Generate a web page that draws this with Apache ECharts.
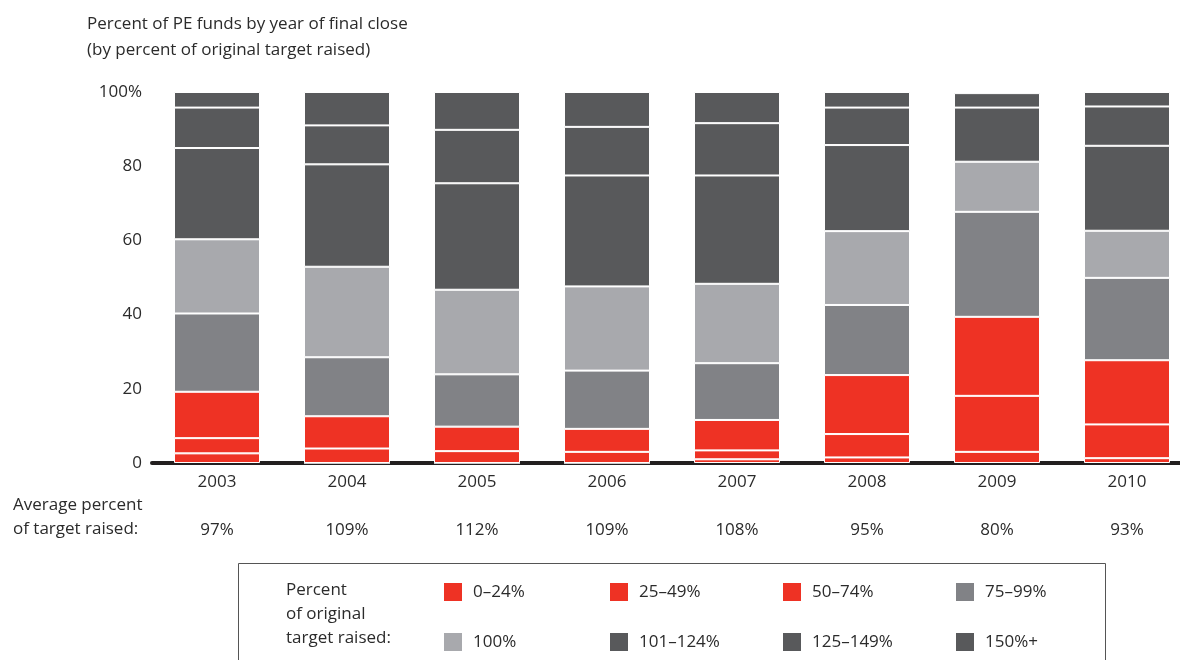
<!DOCTYPE html>
<html>
<head>
<meta charset="utf-8">
<script src="https://cdn.jsdelivr.net/npm/echarts@6/dist/echarts.min.js"></script>
<style>
html, body { margin: 0; padding: 0; background: #fff; overflow: hidden; }
/* a little wider than the window: the last bar column runs past the right edge */
#chart { width: 1192px; height: 660px; }
</style>
</head>
<body>
<div id="chart"></div>
<script>
// years and the average percent of target raised
const years = ["2003", "2004", "2005", "2006", "2007", "2008", "2009", "2010"];
const avgRaised = ["97%", "109%", "112%", "109%", "108%", "95%", "80%", "93%"];

// share of funds (%) per bucket of original target raised
const b0to24 = [2.6, 0, 0, 0, 1.0, 1.5, 3.0, 1.3];
const b25to49 = [4.1, 3.9, 3.2, 3.0, 2.4, 6.3, 15.1, 9.1];
const b50to74 = [12.5, 8.7, 6.6, 6.2, 8.2, 15.9, 21.3, 17.3];
const b75to99 = [21.1, 15.9, 14.1, 15.7, 15.3, 18.9, 28.3, 22.2];
const b100 = [20.0, 24.4, 22.8, 22.7, 21.4, 19.9, 13.5, 12.7];
const b101to124 = [24.6, 27.6, 28.7, 29.9, 29.2, 23.2, 14.6, 22.9];
const b125to149 = [10.9, 10.5, 14.4, 13.1, 14.1, 10.1, 3.9, 10.6];
const b150plus = [4.2, 9.0, 10.2, 9.4, 8.4, 4.2, 0.3, 3.9];

const yTicks = [0, 20, 40, 60, 80, 100];

const RED = "#ee3224", MID = "#818286", LIGHT = "#a8a9ad", DARK = "#58595b";
const FONT = "Open Sans";
const TXT = "#2b2b2b";

const buckets = [
    { name: "0–24%", data: b0to24, color: RED },
    { name: "25–49%", data: b25to49, color: RED },
    { name: "50–74%", data: b50to74, color: RED },
    { name: "75–99%", data: b75to99, color: MID },
    { name: "100%", data: b100, color: LIGHT },
    { name: "101–124%", data: b101to124, color: DARK },
    { name: "125–149%", data: b125to149, color: DARK },
    { name: "150%+", data: b150plus, color: DARK },
];

// legend columns: row 1 and row 2 of each
const legendCols = [
    ["0–24%", "100%"],
    ["25–49%", "101–124%"],
    ["50–74%", "125–149%"],
    ["75–99%", "150%+"],
];
const legendLeft = [442, 608, 781, 954];

const option = {
    animation: false,
    backgroundColor: "#fff",
    textStyle: { fontFamily: FONT },
    title: {
        text: "Percent of PE funds by year of final close\n(by percent of original target raised)",
        left: 82,
        top: 6,
        textStyle: { fontFamily: FONT, fontSize: 17, fontWeight: "normal", color: TXT, lineHeight: 26 },
    },
    grid: { left: 152, top: 92, right: 0, bottom: 197 },
    legend: legendCols.map((col, i) => ({
        data: col,
        orient: "vertical",
        left: legendLeft[i],
        top: 581,
        padding: 0,
        itemWidth: 20,
        itemHeight: 20,
        itemGap: 28,
        icon: "rect",
        selectedMode: false,
        textStyle: { fontFamily: FONT, fontSize: 17, color: TXT, padding: [0, 0, 0, 5] },
    })),
    xAxis: [
        {
            type: "category",
            data: years,
            axisLine: { lineStyle: { color: "#231f20", width: 4 } },
            axisTick: { show: false },
            axisLabel: { margin: 11, fontFamily: FONT, fontSize: 17, color: TXT },
        },
        {
            type: "category",
            data: avgRaised,
            position: "bottom",
            offset: 48,
            axisLine: { show: false },
            axisTick: { show: false },
            axisLabel: { margin: 11, fontFamily: FONT, fontSize: 17, color: TXT },
        },
    ],
    yAxis: {
        type: "value",
        min: yTicks[0],
        max: yTicks[yTicks.length - 1],
        interval: 20,
        axisLine: { show: false },
        axisTick: { show: false },
        splitLine: { show: false },
        axisLabel: {
            margin: 10,
            fontFamily: FONT,
            fontSize: 17,
            color: TXT,
            formatter: (v) => (v === 100 ? "100%" : String(v)),
        },
    },
    graphic: [
        {
            type: "text",
            left: 13,
            top: 493,
            style: { text: "Average percent\nof target raised:", fontFamily: FONT, fontSize: 17, fill: TXT, lineHeight: 24 },
        },
        {
            type: "rect",
            shape: { x: 238.5, y: 563.5, width: 867, height: 120 },
            style: { fill: "none", stroke: "#555", lineWidth: 1 },
        },
        {
            type: "text",
            left: 286,
            top: 578,
            style: { text: "Percent\nof original\ntarget raised:", fontFamily: FONT, fontSize: 17, fill: TXT, lineHeight: 24 },
        },
    ],
    series: buckets.map((b) => ({
        name: b.name,
        type: "bar",
        stack: "all",
        xAxisIndex: 0,
        barWidth: 86,
        data: b.data,
        itemStyle: { color: b.color, borderColor: "#fff", borderWidth: 1 },
    })),
};

const chart = echarts.init(document.getElementById("chart"));
chart.setOption(option);
window.addEventListener("resize", () => chart.resize());
</script>
</body>
</html>
